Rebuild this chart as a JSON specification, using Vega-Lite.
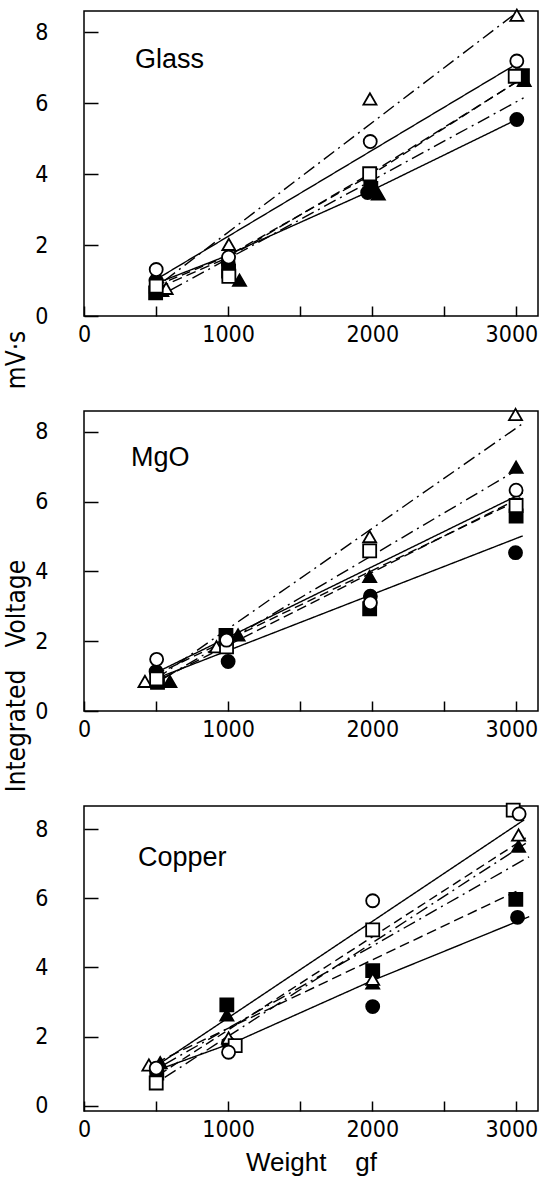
{
  "$schema": "https://vega.github.io/schema/vega-lite/v6.json",
  "background": "white",
  "padding": {"left": 3, "top": 5, "right": 0, "bottom": 0},
  "spacing": 95,
  "bounds": "flush",
  "datasets": {
    "pts": [
      {"p": "Glass", "s": "D", "w": 497, "v": 0.65}, {"p": "Glass", "s": "D", "w": 1003, "v": 1.27}, {"p": "Glass", "s": "D", "w": 1990, "v": 3.6}, {"p": "Glass", "s": "D", "w": 3042, "v": 6.78},
      {"p": "Glass", "s": "E", "w": 500, "v": 1.0}, {"p": "Glass", "s": "E", "w": 1000, "v": 1.5}, {"p": "Glass", "s": "E", "w": 1968, "v": 3.48}, {"p": "Glass", "s": "E", "w": 3003, "v": 5.54},
      {"p": "Glass", "s": "F", "w": 540, "v": 0.72}, {"p": "Glass", "s": "F", "w": 1079, "v": 1.01}, {"p": "Glass", "s": "F", "w": 2042, "v": 3.44}, {"p": "Glass", "s": "F", "w": 3054, "v": 6.64},
      {"p": "Glass", "s": "A", "w": 570, "v": 0.78}, {"p": "Glass", "s": "A", "w": 1005, "v": 2.02}, {"p": "Glass", "s": "A", "w": 1984, "v": 6.12}, {"p": "Glass", "s": "A", "w": 3003, "v": 8.48},
      {"p": "Glass", "s": "C", "w": 501, "v": 0.84}, {"p": "Glass", "s": "C", "w": 1005, "v": 1.12}, {"p": "Glass", "s": "C", "w": 1982, "v": 4.01}, {"p": "Glass", "s": "C", "w": 2992, "v": 6.76},
      {"p": "Glass", "s": "B", "w": 501, "v": 1.31}, {"p": "Glass", "s": "B", "w": 1003, "v": 1.66}, {"p": "Glass", "s": "B", "w": 1986, "v": 4.92}, {"p": "Glass", "s": "B", "w": 3003, "v": 7.19},

      {"p": "MgO", "s": "D", "w": 510, "v": 0.82}, {"p": "MgO", "s": "D", "w": 985, "v": 2.17}, {"p": "MgO", "s": "D", "w": 1982, "v": 2.93}, {"p": "MgO", "s": "D", "w": 2998, "v": 5.59},
      {"p": "MgO", "s": "E", "w": 500, "v": 1.13}, {"p": "MgO", "s": "E", "w": 1000, "v": 1.42}, {"p": "MgO", "s": "E", "w": 1987, "v": 3.29}, {"p": "MgO", "s": "E", "w": 2994, "v": 4.54},
      {"p": "MgO", "s": "F", "w": 596, "v": 0.85}, {"p": "MgO", "s": "F", "w": 1069, "v": 2.18}, {"p": "MgO", "s": "F", "w": 1982, "v": 3.86}, {"p": "MgO", "s": "F", "w": 2998, "v": 6.99},
      {"p": "MgO", "s": "A", "w": 423, "v": 0.85}, {"p": "MgO", "s": "A", "w": 919, "v": 1.84}, {"p": "MgO", "s": "A", "w": 1982, "v": 5.0}, {"p": "MgO", "s": "A", "w": 2994, "v": 8.5},
      {"p": "MgO", "s": "C", "w": 504, "v": 0.92}, {"p": "MgO", "s": "C", "w": 989, "v": 1.84}, {"p": "MgO", "s": "C", "w": 1982, "v": 4.59}, {"p": "MgO", "s": "C", "w": 2998, "v": 5.89},
      {"p": "MgO", "s": "B", "w": 504, "v": 1.48}, {"p": "MgO", "s": "B", "w": 989, "v": 2.03}, {"p": "MgO", "s": "B", "w": 1987, "v": 3.1}, {"p": "MgO", "s": "B", "w": 2998, "v": 6.33},

      {"p": "Copper", "s": "D", "w": 505, "v": 0.95}, {"p": "Copper", "s": "D", "w": 991, "v": 2.92}, {"p": "Copper", "s": "D", "w": 2003, "v": 3.91}, {"p": "Copper", "s": "D", "w": 2996, "v": 5.97},
      {"p": "Copper", "s": "E", "w": 505, "v": 1.0}, {"p": "Copper", "s": "E", "w": 1003, "v": 1.8}, {"p": "Copper", "s": "E", "w": 2003, "v": 2.87}, {"p": "Copper", "s": "E", "w": 3008, "v": 5.45},
      {"p": "Copper", "s": "F", "w": 529, "v": 1.25}, {"p": "Copper", "s": "F", "w": 991, "v": 2.63}, {"p": "Copper", "s": "F", "w": 2003, "v": 3.55}, {"p": "Copper", "s": "F", "w": 3015, "v": 7.51},
      {"p": "Copper", "s": "A", "w": 450, "v": 1.18}, {"p": "Copper", "s": "A", "w": 1003, "v": 1.96}, {"p": "Copper", "s": "A", "w": 2003, "v": 3.66}, {"p": "Copper", "s": "A", "w": 3015, "v": 7.83},
      {"p": "Copper", "s": "C", "w": 501, "v": 0.66}, {"p": "Copper", "s": "C", "w": 1049, "v": 1.74}, {"p": "Copper", "s": "C", "w": 2003, "v": 5.09}, {"p": "Copper", "s": "C", "w": 2978, "v": 8.55},
      {"p": "Copper", "s": "B", "w": 501, "v": 1.09}, {"p": "Copper", "s": "B", "w": 1003, "v": 1.55}, {"p": "Copper", "s": "B", "w": 2003, "v": 5.93}, {"p": "Copper", "s": "B", "w": 3019, "v": 8.44}
    ],
    "lns": [
      {"p": "Glass", "s": "A", "w": 560, "v": 1.0}, {"p": "Glass", "s": "A", "w": 3000, "v": 8.55},
      {"p": "Glass", "s": "B", "w": 500, "v": 1.03}, {"p": "Glass", "s": "B", "w": 2990, "v": 7.08},
      {"p": "Glass", "s": "C", "w": 500, "v": 0.85}, {"p": "Glass", "s": "C", "w": 1000, "v": 1.7}, {"p": "Glass", "s": "C", "w": 2000, "v": 4.0}, {"p": "Glass", "s": "C", "w": 3000, "v": 6.6},
      {"p": "Glass", "s": "D", "w": 520, "v": 0.8}, {"p": "Glass", "s": "D", "w": 1000, "v": 1.65}, {"p": "Glass", "s": "D", "w": 2000, "v": 4.05}, {"p": "Glass", "s": "D", "w": 3050, "v": 6.72},
      {"p": "Glass", "s": "E", "w": 520, "v": 0.95}, {"p": "Glass", "s": "E", "w": 930, "v": 1.6}, {"p": "Glass", "s": "E", "w": 2000, "v": 3.55}, {"p": "Glass", "s": "E", "w": 3003, "v": 5.54},
      {"p": "Glass", "s": "F", "w": 600, "v": 0.73}, {"p": "Glass", "s": "F", "w": 3050, "v": 6.15},

      {"p": "MgO", "s": "A", "w": 500, "v": 0.92}, {"p": "MgO", "s": "A", "w": 3044, "v": 8.24},
      {"p": "MgO", "s": "B", "w": 500, "v": 1.1}, {"p": "MgO", "s": "B", "w": 3044, "v": 6.25},
      {"p": "MgO", "s": "C", "w": 500, "v": 1.05}, {"p": "MgO", "s": "C", "w": 3044, "v": 6.1},
      {"p": "MgO", "s": "D", "w": 550, "v": 0.95}, {"p": "MgO", "s": "D", "w": 3044, "v": 6.15},
      {"p": "MgO", "s": "E", "w": 500, "v": 0.93}, {"p": "MgO", "s": "E", "w": 3044, "v": 5.02},
      {"p": "MgO", "s": "F", "w": 560, "v": 0.95}, {"p": "MgO", "s": "F", "w": 3000, "v": 6.9},

      {"p": "Copper", "s": "A", "w": 560, "v": 0.82}, {"p": "Copper", "s": "A", "w": 3065, "v": 7.59},
      {"p": "Copper", "s": "B", "w": 500, "v": 1.15}, {"p": "Copper", "s": "B", "w": 3054, "v": 8.27},
      {"p": "Copper", "s": "C", "w": 520, "v": 0.9}, {"p": "Copper", "s": "C", "w": 3065, "v": 7.75},
      {"p": "Copper", "s": "D", "w": 500, "v": 1.25}, {"p": "Copper", "s": "D", "w": 3000, "v": 6.2},
      {"p": "Copper", "s": "E", "w": 520, "v": 1.05}, {"p": "Copper", "s": "E", "w": 1050, "v": 1.85}, {"p": "Copper", "s": "E", "w": 2000, "v": 3.62}, {"p": "Copper", "s": "E", "w": 3089, "v": 5.47},
      {"p": "Copper", "s": "F", "w": 560, "v": 1.2}, {"p": "Copper", "s": "F", "w": 3088, "v": 7.2}
    ]
  },
  "vconcat": [
    {
      "width": 454, "height": 305,
      "layer": [
        {
          "data": {"name": "lns"},
          "transform": [{"filter": "datum.p == 'Glass'"}],
          "mark": {"type": "line", "color": "black", "strokeCap": "butt"},
          "encoding": {
            "x": {"field": "w", "type": "quantitative", "title": null, "scale": {"domain": [0, 3150], "nice": false, "zero": false}, "axis": {"values": [0, 500, 1000, 1500, 2000, 2500, 3000]}},
            "y": {"field": "v", "type": "quantitative", "title": null, "scale": {"domain": [0, 8.6], "nice": false, "zero": false}, "axis": {"values": [0, 2, 4, 6, 8]}},
            "detail": {"field": "s"},
            "strokeDash": {"field": "s", "type": "nominal", "legend": null, "scale": {"domain": ["A", "B", "C", "D", "E", "F"], "range": [[13, 5, 2, 5], [1, 0], [9, 5], [10, 5], [1, 0], [13, 5, 2, 5]]}},
            "strokeWidth": {"field": "s", "type": "ordinal", "legend": null, "scale": {"domain": ["A", "B", "C", "D", "E", "F"], "range": [1.4, 1.4, 1.4, 2.8, 2.8, 2.8]}}
          }
        },
        {
          "data": {"name": "pts"},
          "transform": [{"filter": "datum.p == 'Glass'"}],
          "mark": {"type": "point", "filled": true, "stroke": "black", "strokeWidth": 1.8, "size": 170, "opacity": 1},
          "encoding": {
            "x": {"field": "w", "type": "quantitative", "title": null},
            "y": {"field": "v", "type": "quantitative", "title": null},
            "shape": {"field": "s", "type": "nominal", "legend": null, "scale": {"domain": ["A", "B", "C", "D", "E", "F"], "range": ["triangle-up", "circle", "square", "square", "circle", "triangle-up"]}},
            "fill": {"field": "s", "type": "nominal", "legend": null, "scale": {"domain": ["A", "B", "C", "D", "E", "F"], "range": ["white", "white", "white", "black", "black", "black"]}}
          }
        },
        {
          "data": {"values": [{"label": "Glass"}]},
          "mark": {"type": "text", "align": "left", "baseline": "alphabetic", "font": "Liberation Sans", "fontSize": 27, "color": "black"},
          "encoding": {"x": {"datum": 353, "type": "quantitative"}, "y": {"datum": 7.0, "type": "quantitative"}, "text": {"field": "label"}}
        }
      ]
    },
    {
      "width": 454, "height": 300,
      "layer": [
        {
          "data": {"name": "lns"},
          "transform": [{"filter": "datum.p == 'MgO'"}],
          "mark": {"type": "line", "color": "black", "strokeCap": "butt"},
          "encoding": {
            "x": {"field": "w", "type": "quantitative", "title": null, "scale": {"domain": [0, 3150], "nice": false, "zero": false}, "axis": {"values": [0, 500, 1000, 1500, 2000, 2500, 3000]}},
            "y": {"field": "v", "type": "quantitative", "title": "Integrated\u00a0\u00a0\u00a0Voltage\u00a0\u00a0\u00a0\u00a0\u00a0\u00a0\u00a0\u00a0\u00a0\u00a0\u00a0\u00a0\u00a0\u00a0\u00a0\u00a0\u00a0\u00a0\u00a0\u00a0\u00a0\u00a0\u00a0mV·s", "scale": {"domain": [0, 8.6], "nice": false, "zero": false}, "axis": {"values": [0, 2, 4, 6, 8]}},
            "detail": {"field": "s"},
            "strokeDash": {"field": "s", "type": "nominal", "legend": null, "scale": {"domain": ["A", "B", "C", "D", "E", "F"], "range": [[13, 5, 2, 5], [1, 0], [9, 5], [10, 5], [1, 0], [13, 5, 2, 5]]}},
            "strokeWidth": {"field": "s", "type": "ordinal", "legend": null, "scale": {"domain": ["A", "B", "C", "D", "E", "F"], "range": [1.4, 1.4, 1.4, 2.8, 2.8, 2.8]}}
          }
        },
        {
          "data": {"name": "pts"},
          "transform": [{"filter": "datum.p == 'MgO'"}],
          "mark": {"type": "point", "filled": true, "stroke": "black", "strokeWidth": 1.8, "size": 170, "opacity": 1},
          "encoding": {
            "x": {"field": "w", "type": "quantitative", "title": null},
            "y": {"field": "v", "type": "quantitative", "title": "Integrated\u00a0\u00a0\u00a0Voltage\u00a0\u00a0\u00a0\u00a0\u00a0\u00a0\u00a0\u00a0\u00a0\u00a0\u00a0\u00a0\u00a0\u00a0\u00a0\u00a0\u00a0\u00a0\u00a0\u00a0\u00a0\u00a0\u00a0mV·s"},
            "shape": {"field": "s", "type": "nominal", "legend": null, "scale": {"domain": ["A", "B", "C", "D", "E", "F"], "range": ["triangle-up", "circle", "square", "square", "circle", "triangle-up"]}},
            "fill": {"field": "s", "type": "nominal", "legend": null, "scale": {"domain": ["A", "B", "C", "D", "E", "F"], "range": ["white", "white", "white", "black", "black", "black"]}}
          }
        },
        {
          "data": {"values": [{"label": "MgO"}]},
          "mark": {"type": "text", "align": "left", "baseline": "alphabetic", "font": "Liberation Sans", "fontSize": 27, "color": "black"},
          "encoding": {"x": {"datum": 326, "type": "quantitative"}, "y": {"datum": 7.02, "type": "quantitative"}, "text": {"field": "label"}}
        }
      ]
    },
    {
      "width": 454, "height": 305,
      "layer": [
        {
          "data": {"name": "lns"},
          "transform": [{"filter": "datum.p == 'Copper'"}],
          "mark": {"type": "line", "color": "black", "strokeCap": "butt"},
          "encoding": {
            "x": {"field": "w", "type": "quantitative", "title": "Weight\u00a0\u00a0\u00a0\u00a0gf", "scale": {"domain": [0, 3150], "nice": false, "zero": false}, "axis": {"values": [0, 500, 1000, 1500, 2000, 2500, 3000]}},
            "y": {"field": "v", "type": "quantitative", "title": null, "scale": {"domain": [-0.15, 8.67], "nice": false, "zero": false}, "axis": {"values": [0, 2, 4, 6, 8]}},
            "detail": {"field": "s"},
            "strokeDash": {"field": "s", "type": "nominal", "legend": null, "scale": {"domain": ["A", "B", "C", "D", "E", "F"], "range": [[13, 5, 2, 5], [1, 0], [9, 5], [10, 5], [1, 0], [13, 5, 2, 5]]}},
            "strokeWidth": {"field": "s", "type": "ordinal", "legend": null, "scale": {"domain": ["A", "B", "C", "D", "E", "F"], "range": [1.4, 1.4, 1.4, 2.8, 2.8, 2.8]}}
          }
        },
        {
          "data": {"name": "pts"},
          "transform": [{"filter": "datum.p == 'Copper'"}],
          "mark": {"type": "point", "filled": true, "stroke": "black", "strokeWidth": 1.8, "size": 170, "opacity": 1},
          "encoding": {
            "x": {"field": "w", "type": "quantitative", "title": "Weight\u00a0\u00a0\u00a0\u00a0gf"},
            "y": {"field": "v", "type": "quantitative", "title": null},
            "shape": {"field": "s", "type": "nominal", "legend": null, "scale": {"domain": ["A", "B", "C", "D", "E", "F"], "range": ["triangle-up", "circle", "square", "square", "circle", "triangle-up"]}},
            "fill": {"field": "s", "type": "nominal", "legend": null, "scale": {"domain": ["A", "B", "C", "D", "E", "F"], "range": ["white", "white", "white", "black", "black", "black"]}}
          }
        },
        {
          "data": {"values": [{"label": "Copper"}]},
          "mark": {"type": "text", "align": "left", "baseline": "alphabetic", "font": "Liberation Sans", "fontSize": 27, "color": "black"},
          "encoding": {"x": {"datum": 374, "type": "quantitative"}, "y": {"datum": 6.93, "type": "quantitative"}, "text": {"field": "label"}}
        }
      ]
    }
  ],
  "resolve": {"scale": {"x": "independent", "y": "independent"}},
  "config": {
    "view": {"stroke": "black", "strokeWidth": 1.5},
    "axis": {
      "grid": false,
      "domain": false,
      "ticks": true,
      "tickColor": "black",
      "tickWidth": 1.5,
      "labelColor": "black",
      "labelFont": "DejaVu Sans Condensed",
      "labelFontSize": 23,
      "titleColor": "black",
      "titleFontWeight": "normal"
    },
    "axisX": {
      "labelExpr": "datum.value % 1000 == 0 ? format(datum.value, 'd') : ''",
      "labelOffset": {"condition": {"test": "datum.value == 3000", "value": -5}, "value": 0},
      "tickSize": -10,
      "labelPadding": 17,
      "labelFlush": false,
      "labelOverlap": false,
      "titleFont": "Liberation Sans",
      "titleFontSize": 26,
      "titlePadding": 8
    },
    "axisY": {
      "format": "d",
      "tickSize": -14,
      "labelPadding": 50,
      "labelFlush": false,
      "labelOverlap": false,
      "titleFont": "DejaVu Sans Condensed",
      "titleFontSize": 26,
      "titlePadding": 5
    }
  }
}
